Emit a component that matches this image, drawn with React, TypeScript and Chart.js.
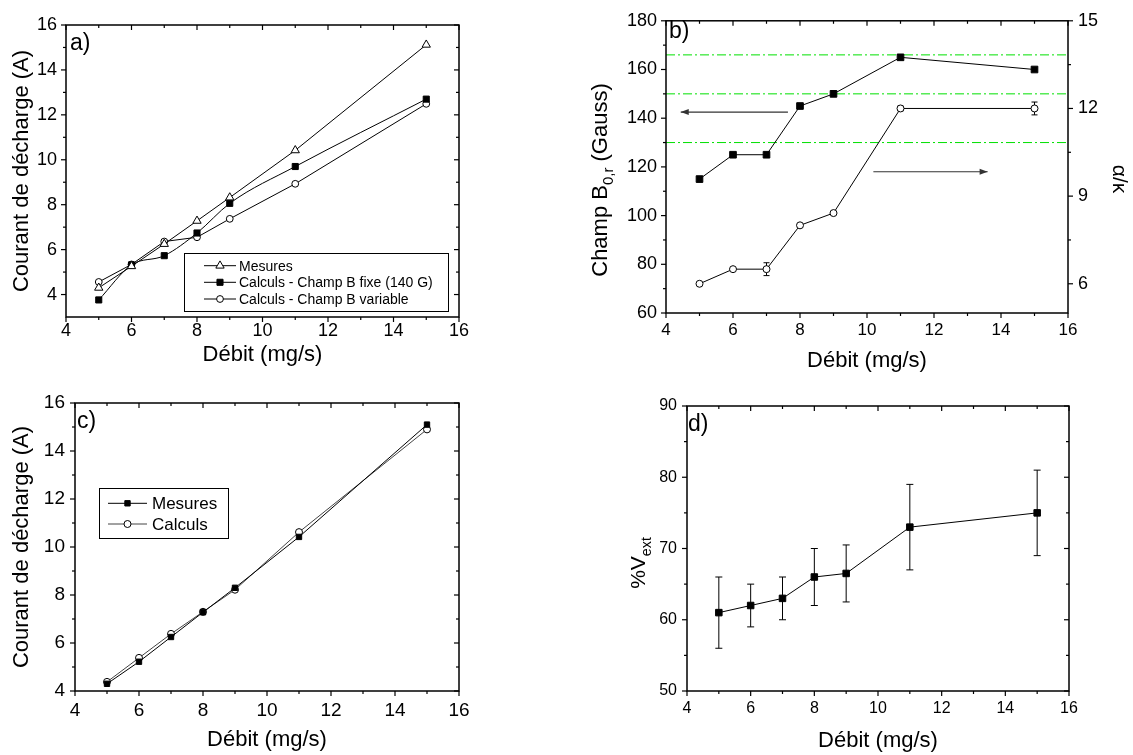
import React, { useEffect, useRef } from 'react';
import { Chart, registerables } from 'chart.js';

Chart.register(...registerables);

const FONT = 'Arial, "Liberation Sans", Helvetica, sans-serif';

// ===== Données =====
const debit = [5, 6, 7, 8, 9, 11, 15];

// a)
const mesuresA = [4.3, 5.26, 6.25, 7.28, 8.32, 10.42, 15.12];
const calculsFixeA = [3.76, 5.32, 5.73, 6.74, 8.06, 9.7, 12.7];
const calculsVariableA = [4.56, 5.34, 6.36, 6.55, 7.37, 8.93, 12.49];

// b)
const champB0r = [115, 125, 125, 145, 150, 165, 160];
const alphaKappa = [6.0, 6.5, 6.5, 8.0, 8.42, 12.0, 12.0];
const alphaKappaErr = [0, 0, 0.22, 0, 0, 0.08, 0.22];
const niveauxVerts = [166, 150, 130];
const niveauxVertsX = [4, 16];
const flecheGaucheX = [7.64, 4.44];
const flecheGaucheY = [142.5, 142.5];
const flecheDroiteX = [10.19, 13.6];
const flecheDroiteY = [118, 118];

// c)
const mesuresC = [4.3, 5.22, 6.25, 7.28, 8.3, 10.42, 15.1];
const calculsC = [4.38, 5.38, 6.38, 7.3, 8.22, 10.62, 14.9];

// d)
const vExt = [61, 62, 63, 66, 66.5, 73, 75];
const vExtErr = [5, 3, 3, 4, 4, 6, 6];

// Graduations
const xTicks = [4, 6, 8, 10, 12, 14, 16];
const xMinor = [5, 7, 9, 11, 13, 15];
const yTicksAC = [4, 6, 8, 10, 12, 14, 16];
const yMinorAC = [5, 7, 9, 11, 13, 15];
const yTicksB = [60, 80, 100, 120, 140, 160, 180];
const yMinorB = [70, 90, 110, 130, 150, 170];
const y2TicksB = [6, 9, 12, 15];
const y2MinorB = [7.5, 10.5, 13.5];
const yTicksD = [50, 60, 70, 80, 90];
const yMinorD = [55, 65, 75, 85];

// ===== Helpers =====
const pts = (xs: number[], ys: number[]) => xs.map((x, i) => ({ x, y: ys[i] }));

function axis(o: any) {
  return {
    type: 'linear',
    min: o.min,
    max: o.max,
    position: o.position,
    afterBuildTicks: (s: any) => {
      s.ticks = o.ticks.map((v: number) => ({ value: v }));
    },
    afterFit: (s: any) => {
      if (o.horizontal) s.height = o.fit;
      else s.width = o.fit;
    },
    grid: { display: false, drawTicks: false },
    border: { display: false },
    ticks: {
      font: { family: FONT, size: o.size },
      color: '#000',
      padding: o.padding,
      maxRotation: 0,
      autoSkip: false,
    },
    title: o.title
      ? {
          display: true,
          text: o.title.text,
          color: '#000',
          font: { family: FONT, size: o.title.size },
          padding: o.title.padding,
        }
      : { display: false },
  };
}

function baseOptions(padding: any, scales: any) {
  return {
    animation: false,
    responsive: true,
    maintainAspectRatio: false,
    events: [],
    layout: { padding },
    plugins: { legend: { display: false }, tooltip: { enabled: false } },
    scales,
  };
}

function serie(label: string, data: any[], style: string, r: number, fill: string, extra: any = {}) {
  return {
    label,
    data,
    borderColor: '#000',
    borderWidth: 1,
    pointStyle: style,
    pointRadius: r,
    pointHoverRadius: r,
    pointBackgroundColor: fill,
    pointBorderColor: '#000',
    pointBorderWidth: 1,
    tension: 0,
    ...extra,
  };
}

function seg(ctx: any, x1: number, y1: number, x2: number, y2: number) {
  ctx.beginPath();
  ctx.moveTo(x1, y1);
  ctx.lineTo(x2, y2);
  ctx.stroke();
}

function drawMarker(ctx: any, style: string, x: number, y: number, r: number, fill: string, stroke: string) {
  ctx.save();
  ctx.fillStyle = fill;
  ctx.strokeStyle = stroke;
  ctx.lineWidth = 1;
  ctx.beginPath();
  if (style === 'rect') {
    const s = r * Math.SQRT1_2;
    ctx.rect(x - s, y - s, 2 * s, 2 * s);
  } else if (style === 'triangle') {
    let a = 0;
    ctx.moveTo(x + Math.sin(a) * r, y - Math.cos(a) * r);
    a += (2 * Math.PI) / 3;
    ctx.lineTo(x + Math.sin(a) * r, y - Math.cos(a) * r);
    a += (2 * Math.PI) / 3;
    ctx.lineTo(x + Math.sin(a) * r, y - Math.cos(a) * r);
    ctx.closePath();
  } else {
    ctx.arc(x, y, r, 0, Math.PI * 2);
  }
  ctx.fill();
  ctx.stroke();
  ctx.restore();
}

// Barres d'erreur (valeurs dans dataset.errors)
const errorBarPlugin = {
  id: 'errorBars',
  beforeDatasetsDraw(chart: any) {
    const ctx = chart.ctx;
    chart.data.datasets.forEach((ds: any, i: number) => {
      if (!ds.errors) return;
      const meta = chart.getDatasetMeta(i);
      const ys = chart.scales[meta.yAxisID];
      const cap = ds.errorCap || 3;
      ctx.save();
      ctx.strokeStyle = '#000';
      ctx.lineWidth = 1;
      ds.data.forEach((d: any, j: number) => {
        const e = ds.errors[j];
        if (!e) return;
        const px = meta.data[j].x;
        const t = ys.getPixelForValue(d.y + e);
        const b = ys.getPixelForValue(d.y - e);
        seg(ctx, px, t, px, b);
        seg(ctx, px - cap, t, px + cap, t);
        seg(ctx, px - cap, b, px + cap, b);
      });
      ctx.restore();
    });
  },
};

// Pointes de flèches (dataset.arrow)
const arrowPlugin = {
  id: 'arrows',
  afterDatasetsDraw(chart: any) {
    const ctx = chart.ctx;
    chart.data.datasets.forEach((ds: any, i: number) => {
      if (!ds.arrow) return;
      const meta = chart.getDatasetMeta(i);
      const n = meta.data.length;
      const p0 = meta.data[n - 2];
      const p1 = meta.data[n - 1];
      const ang = Math.atan2(p1.y - p0.y, p1.x - p0.x);
      const L = 8;
      const W = 3;
      ctx.save();
      ctx.fillStyle = ds.borderColor;
      ctx.translate(p1.x, p1.y);
      ctx.rotate(ang);
      ctx.beginPath();
      ctx.moveTo(0, 0);
      ctx.lineTo(-L, -W);
      ctx.lineTo(-L, W);
      ctx.closePath();
      ctx.fill();
      ctx.restore();
    });
  },
};

function framePlugin(cfg: any) {
  return {
    id: 'frame',
    afterDatasetsDraw(chart: any) {
      const { ctx, chartArea: a, scales } = chart;
      const x = scales.x;
      const y = scales.y;
      const y2 = scales.y2;
      const MAJ = 5;
      const MIN = 3;
      ctx.save();
      ctx.strokeStyle = '#000';
      ctx.lineWidth = 1.2;
      x.ticks.forEach((t: any) => {
        const p = x.getPixelForValue(t.value);
        seg(ctx, p, a.bottom, p, a.bottom + MAJ);
        seg(ctx, p, a.top, p, a.top + MAJ);
      });
      cfg.xMinor.forEach((v: number) => {
        const p = x.getPixelForValue(v);
        seg(ctx, p, a.bottom, p, a.bottom + MIN);
        seg(ctx, p, a.top, p, a.top + MIN);
      });
      y.ticks.forEach((t: any) => {
        const p = y.getPixelForValue(t.value);
        seg(ctx, a.left - MAJ, p, a.left, p);
        if (!y2) seg(ctx, a.right - MAJ, p, a.right, p);
      });
      cfg.yMinor.forEach((v: number) => {
        const p = y.getPixelForValue(v);
        seg(ctx, a.left - MIN, p, a.left, p);
        if (!y2) seg(ctx, a.right - MIN, p, a.right, p);
      });
      if (y2) {
        y2.ticks.forEach((t: any) => {
          const p = y2.getPixelForValue(t.value);
          seg(ctx, a.right, p, a.right + MAJ, p);
        });
        (cfg.y2Minor || []).forEach((v: number) => {
          const p = y2.getPixelForValue(v);
          seg(ctx, a.right, p, a.right + MIN, p);
        });
      }
      ctx.lineWidth = 1.5;
      ctx.strokeRect(a.left, a.top, a.right - a.left, a.bottom - a.top);
      ctx.restore();
    },
  };
}

function legendPlugin(cfg: any) {
  return {
    id: 'boxLegend',
    afterDraw(chart: any) {
      const ctx = chart.ctx;
      const [bx, by, bw, bh] = cfg.box;
      ctx.save();
      ctx.fillStyle = '#fff';
      ctx.fillRect(bx, by, bw, bh);
      ctx.strokeStyle = '#000';
      ctx.lineWidth = 1;
      ctx.strokeRect(bx + 0.5, by + 0.5, bw, bh);
      cfg.indices.forEach((di: number, k: number) => {
        const ds = chart.data.datasets[di];
        const yy = cfg.rows[k];
        ctx.strokeStyle = ds.borderColor;
        ctx.lineWidth = 1;
        seg(ctx, cfg.line[0], yy, cfg.line[1], yy);
        drawMarker(ctx, ds.pointStyle, (cfg.line[0] + cfg.line[1]) / 2, yy, ds.pointRadius, ds.pointBackgroundColor, ds.pointBorderColor);
        ctx.fillStyle = '#000';
        ctx.font = `${cfg.size}px ${FONT}`;
        ctx.textBaseline = 'middle';
        ctx.textAlign = 'left';
        ctx.fillText(ds.label, cfg.textX, yy + 1);
      });
      ctx.restore();
    },
  };
}

function drawRich(ctx: any, it: any) {
  const subSize = it.size * 0.68;
  ctx.save();
  ctx.translate(it.x, it.y);
  ctx.rotate(it.rot || 0);
  ctx.fillStyle = '#000';
  ctx.textBaseline = 'alphabetic';
  ctx.textAlign = 'left';
  const widths = it.parts.map((p: any) => {
    ctx.font = `${p.sub ? subSize : it.size}px ${FONT}`;
    return ctx.measureText(p.t).width;
  });
  const total = widths.reduce((s: number, w: number) => s + w, 0);
  let x = it.align === 'left' ? 0 : -total / 2;
  const base = it.align === 'left' ? 0 : it.size * 0.35;
  it.parts.forEach((p: any, i: number) => {
    ctx.font = `${p.sub ? subSize : it.size}px ${FONT}`;
    ctx.fillText(p.t, x, base + (p.sub ? it.size * 0.28 : 0));
    x += widths[i];
  });
  ctx.restore();
}

function textPlugin(items: any[]) {
  return {
    id: 'texts',
    afterDraw(chart: any) {
      items.forEach((it) => drawRich(chart.ctx, it));
    },
  };
}

// ===== Panneaux =====
const buildA = () => ({
  type: 'line',
  data: {
    datasets: [
      serie('Mesures', pts(debit, mesuresA), 'triangle', 4.8, '#fff'),
      serie('Calculs - Champ B fixe (140 G)', pts(debit, calculsFixeA), 'rect', 4.3, '#000', {
        cubicInterpolationMode: 'monotone',
      }),
      serie('Calculs - Champ B variable', pts(debit, calculsVariableA), 'circle', 3.4, '#fff'),
    ],
  },
  options: baseOptions(
    { left: 0, top: 25, right: 101, bottom: 0 },
    {
      x: axis({
        min: 4, max: 16, ticks: xTicks, size: 18, padding: 3, fit: 58, horizontal: true,
        title: { text: 'Débit (mg/s)', size: 22, padding: { top: 0, bottom: 7 } },
      }),
      y: axis({
        min: 3, max: 16, ticks: yTicksAC, size: 18, padding: 9, fit: 66, horizontal: false,
        title: { text: 'Courant de décharge (A)', size: 22, padding: { top: 9, bottom: 0 } },
      }),
    }
  ),
  plugins: [
    errorBarPlugin,
    framePlugin({ xMinor, yMinor: yMinorAC }),
    legendPlugin({ box: [184, 253, 264, 58], rows: [265.7, 282.3, 299], line: [204, 236], textX: 239, size: 14, indices: [0, 1, 2] }),
    textPlugin([{ parts: [{ t: 'a)' }], x: 70, y: 50, size: 23, align: 'left' }]),
  ],
});

const buildB = () => ({
  type: 'line',
  data: {
    datasets: [
      serie('Champ B0,r', pts(debit, champB0r), 'rect', 4.7, '#000', { yAxisID: 'y' }),
      serie('α/κ', pts(debit, alphaKappa), 'circle', 3.5, '#fff', { yAxisID: 'y2', errors: alphaKappaErr, errorCap: 3 }),
      ...niveauxVerts.map((v) => ({
        label: 'niveau ' + v,
        data: pts(niveauxVertsX, [v, v]),
        yAxisID: 'y',
        borderColor: '#00e000',
        borderWidth: 1,
        borderDash: [9, 3, 2, 3],
        pointRadius: 0,
        tension: 0,
      })),
      {
        label: 'flèche gauche',
        data: pts(flecheGaucheX, flecheGaucheY),
        yAxisID: 'y',
        borderColor: '#333',
        borderWidth: 1.2,
        pointRadius: 0,
        arrow: true,
      },
      {
        label: 'flèche droite',
        data: pts(flecheDroiteX, flecheDroiteY),
        yAxisID: 'y',
        borderColor: '#333',
        borderWidth: 1.2,
        pointRadius: 0,
        arrow: true,
      },
    ],
  },
  options: baseOptions(
    { left: 0, top: 13, right: 0, bottom: 0 },
    {
      x: axis({
        min: 4, max: 16, ticks: xTicks, size: 17, padding: 7, fit: 62, horizontal: true,
        title: { text: 'Débit (mg/s)', size: 22, padding: { top: 0, bottom: 1 } },
      }),
      y: axis({ min: 60, max: 180, ticks: yTicksB, size: 18, padding: 9, fit: 106, horizontal: false, position: 'left' }),
      y2: axis({ min: 5, max: 15, ticks: y2TicksB, size: 18, padding: 10, fit: 65, horizontal: false, position: 'right' }),
    }
  ),
  plugins: [
    errorBarPlugin,
    arrowPlugin,
    framePlugin({ xMinor, yMinor: yMinorB, y2Minor: y2MinorB }),
    textPlugin([
      { parts: [{ t: 'b)' }], x: 109, y: 38, size: 23, align: 'left' },
      { parts: [{ t: 'Champ B' }, { t: '0,r', sub: true }, { t: ' (Gauss)' }], x: 39, y: 180, rot: -Math.PI / 2, size: 22 },
      { parts: [{ t: 'α/κ' }], x: 560, y: 179, rot: Math.PI / 2, size: 21 },
    ]),
  ],
});

const buildC = () => ({
  type: 'line',
  data: {
    datasets: [
      serie('Mesures', pts(debit, mesuresC), 'rect', 3.8, '#000'),
      serie('Calculs', pts(debit, calculsC), 'circle', 3.5, '#fff', { borderColor: '#444' }),
    ],
  },
  options: baseOptions(
    { left: 0, top: 28, right: 101, bottom: 0 },
    {
      x: axis({
        min: 4, max: 16, ticks: xTicks, size: 19, padding: 8, fit: 64, horizontal: true,
        title: { text: 'Débit (mg/s)', size: 22, padding: { top: 0, bottom: 2 } },
      }),
      y: axis({
        min: 4, max: 16, ticks: yTicksAC, size: 19, padding: 10, fit: 75, horizontal: false,
        title: { text: 'Courant de décharge (A)', size: 22, padding: { top: 9, bottom: 0 } },
      }),
    }
  ),
  plugins: [
    errorBarPlugin,
    framePlugin({ xMinor, yMinor: yMinorAC }),
    legendPlugin({ box: [99, 113, 129, 50], rows: [128.3, 149], line: [108, 147], textX: 152, size: 17, indices: [0, 1] }),
    textPlugin([{ parts: [{ t: 'c)' }], x: 77, y: 53, size: 23, align: 'left' }]),
  ],
});

const buildD = () => ({
  type: 'line',
  data: {
    datasets: [serie('%Vext', pts(debit, vExt), 'rect', 4.6, '#000', { errors: vExtErr, errorCap: 3.5 })],
  },
  options: baseOptions(
    { left: 0, top: 31, right: 64, bottom: 0 },
    {
      x: axis({
        min: 4, max: 16, ticks: xTicks, size: 16, padding: 8, fit: 64, horizontal: true,
        title: { text: 'Débit (mg/s)', size: 22, padding: { top: 0, bottom: 1 } },
      }),
      y: axis({ min: 50, max: 90, ticks: yTicksD, size: 16, padding: 10, fit: 127, horizontal: false }),
    }
  ),
  plugins: [
    errorBarPlugin,
    framePlugin({ xMinor, yMinor: yMinorD }),
    textPlugin([
      { parts: [{ t: 'd)' }], x: 128, y: 56, size: 23, align: 'left' },
      { parts: [{ t: '%V' }, { t: 'ext', sub: true }], x: 78, y: 188, rot: -Math.PI / 2, size: 21 },
    ]),
  ],
});

function Panel({ left, top, width, height, build }: any) {
  const ref = useRef<HTMLCanvasElement>(null);
  useEffect(() => {
    const chart = new Chart(ref.current as any, build() as any);
    return () => chart.destroy();
  }, [build]);
  return (
    <div style={{ position: 'absolute', left, top, width, height }}>
      <canvas ref={ref} />
    </div>
  );
}

export default function App() {
  return (
    <div style={{ position: 'absolute', left: 0, top: 0, width: 1133, height: 755, background: '#fff', overflow: 'hidden' }}>
      <Panel left={0} top={0} width={560} height={375} build={buildA} />
      <Panel left={560} top={0} width={573} height={375} build={buildB} />
      <Panel left={0} top={375} width={560} height={380} build={buildC} />
      <Panel left={560} top={375} width={573} height={380} build={buildD} />
    </div>
  );
}
